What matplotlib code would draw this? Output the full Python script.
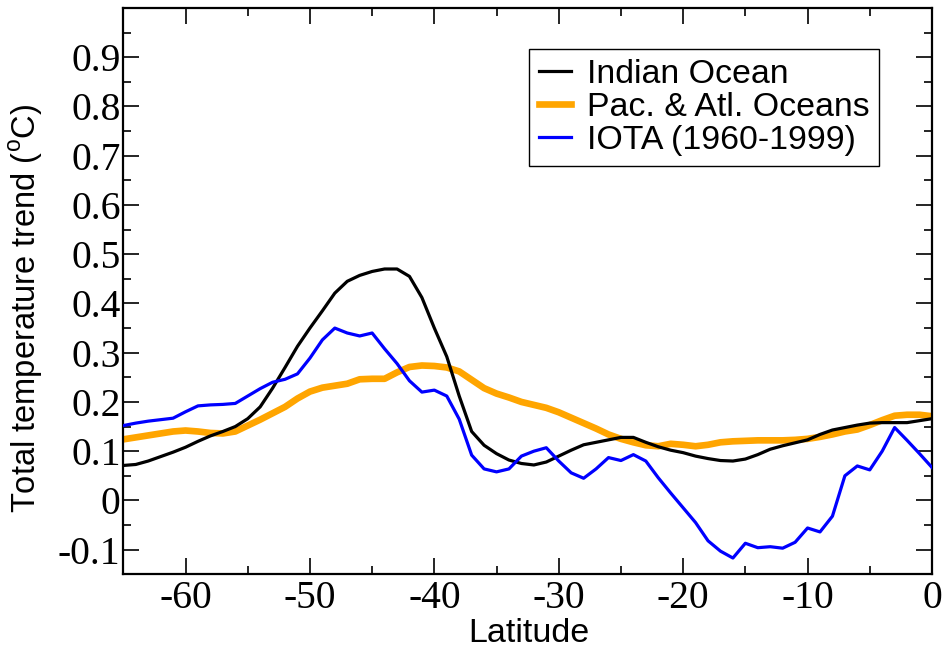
import numpy as np
import matplotlib
matplotlib.use("Agg")
import matplotlib.pyplot as plt
from matplotlib.ticker import MultipleLocator

plt.rcParams['mathtext.fontset'] = 'custom'
plt.rcParams['mathtext.rm'] = 'Liberation Sans'

lat = list(range(-65, 1))

indian = [0.071, 0.073, 0.080, 0.089, 0.098, 0.108, 0.120, 0.131, 0.140, 0.150,
          0.166, 0.190, 0.228, 0.270, 0.313, 0.350, 0.385, 0.421, 0.445, 0.457,
          0.465, 0.470, 0.470, 0.455, 0.412, 0.350, 0.292, 0.212, 0.140, 0.112,
          0.095, 0.082, 0.075, 0.072, 0.078, 0.090, 0.102, 0.113, 0.118, 0.123,
          0.128, 0.128, 0.118, 0.109, 0.102, 0.097, 0.090, 0.085, 0.081, 0.080,
          0.084, 0.093, 0.104, 0.111, 0.117, 0.123, 0.134, 0.143, 0.148, 0.153,
          0.157, 0.158, 0.158, 0.158, 0.162, 0.166]

pacatl = [0.124, 0.128, 0.132, 0.136, 0.140, 0.142, 0.140, 0.137, 0.136, 0.140,
          0.152, 0.164, 0.177, 0.190, 0.207, 0.221, 0.229, 0.233, 0.237, 0.246,
          0.247, 0.247, 0.260, 0.271, 0.274, 0.273, 0.270, 0.262, 0.245, 0.228,
          0.217, 0.209, 0.200, 0.194, 0.188, 0.179, 0.168, 0.157, 0.146, 0.134,
          0.125, 0.118, 0.112, 0.110, 0.115, 0.113, 0.110, 0.113, 0.118, 0.120,
          0.121, 0.122, 0.122, 0.122, 0.123, 0.125, 0.129, 0.134, 0.140, 0.144,
          0.153, 0.163, 0.172, 0.174, 0.174, 0.171]

iota = [0.152, 0.157, 0.161, 0.164, 0.167, 0.180, 0.192, 0.194, 0.195, 0.197,
        0.212, 0.227, 0.240, 0.246, 0.257, 0.289, 0.326, 0.350, 0.340, 0.334,
        0.340, 0.308, 0.278, 0.243, 0.220, 0.224, 0.212, 0.165, 0.092, 0.064,
        0.058, 0.064, 0.090, 0.100, 0.107, 0.080, 0.056, 0.045, 0.064, 0.087,
        0.081, 0.093, 0.080, 0.046, 0.015, -0.015, -0.045, -0.082, -0.103, -0.117,
        -0.087, -0.096, -0.094, -0.097, -0.085, -0.056, -0.064, -0.032, 0.050, 0.070,
        0.062, 0.100, 0.148, 0.122, 0.095, 0.067]

xticks = [-60, -50, -40, -30, -20, -10, 0]
xticklabels = ['-60', '-50', '-40', '-30', '-20', '-10', '0']
yticks = [-0.1, 0, 0.1, 0.2, 0.3, 0.4, 0.5, 0.6, 0.7, 0.8, 0.9]
yticklabels = ['-0.1', '0', '0.1', '0.2', '0.3', '0.4', '0.5', '0.6', '0.7', '0.8', '0.9']

fig = plt.figure(figsize=(9.45, 6.52), dpi=100)
ax = fig.add_axes([0.1305, 0.1192, 0.8557, 0.8685])

ax.plot(lat, indian, color='black', lw=2.3, label='Indian Ocean', zorder=3)
ax.plot(lat, pacatl, color='#FFA500', lw=4.8, label='Pac. & Atl. Oceans', zorder=2)
ax.plot(lat, iota, color='#0000FF', lw=2.3, label='IOTA (1960-1999)', zorder=4)

ax.set_xlim(-65, 0)
ax.set_ylim(-0.15, 1.0)
ax.set_xticks(xticks)
ax.set_xticklabels(xticklabels, family='Liberation Serif', fontsize=28.5)
ax.set_yticks(yticks)
ax.set_yticklabels(yticklabels, family='Liberation Serif', fontsize=28.5)
ax.xaxis.set_minor_locator(MultipleLocator(5))
ax.yaxis.set_minor_locator(MultipleLocator(0.05))
ax.tick_params(which='both', direction='in', top=True, right=True, width=1.2)
ax.tick_params(which='major', length=11.5)
ax.tick_params(which='minor', length=6)
ax.tick_params(axis='y', which='major', pad=2)
ax.tick_params(axis='x', which='major', pad=4)
for s in ax.spines.values():
    s.set_linewidth(1.6)

ax.set_xlabel('Latitude', family='Liberation Sans', fontsize=24.5)
ax.xaxis.set_label_coords(0.501, -0.078)
ax.set_ylabel('Total temperature trend ($^{\\mathrm{o}}$C)', family='Liberation Sans',
              fontsize=23.5)
ax.yaxis.set_label_coords(-0.097, 0.469)

leg = ax.legend(loc='upper right', bbox_to_anchor=(0.935, 0.9276), fancybox=False,
                frameon=True, edgecolor='black', framealpha=1,
                prop={'family': 'Liberation Sans', 'size': 24.4},
                handlelength=0.95, handletextpad=0.45, labelspacing=0.05,
                borderpad=0.3, borderaxespad=0)
leg.get_frame().set_linewidth(1.0)

fig.savefig('out.png', dpi=100)
